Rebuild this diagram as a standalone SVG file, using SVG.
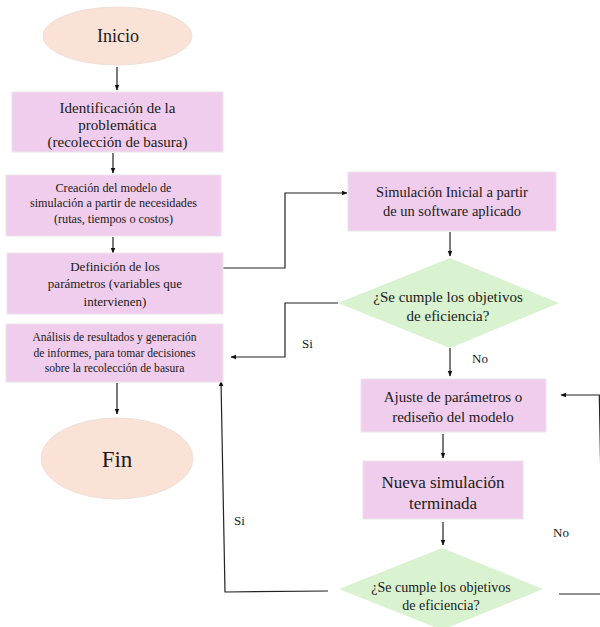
<svg xmlns="http://www.w3.org/2000/svg" width="600" height="627" viewBox="0 0 600 627" font-family="Times New Roman" style="font-family:'Liberation Serif','Times New Roman',serif">
<defs>
<marker id="ah" viewBox="0 0 10 10" refX="9" refY="5" markerWidth="6" markerHeight="6" orient="auto" markerUnits="userSpaceOnUse">
<path d="M0,1 L10,5 L0,9 z" fill="#111"/>
</marker>
</defs>
<rect width="600" height="627" fill="#fff"/>
<g id="connectors" fill="none" stroke="#222" stroke-width="1.2" marker-end="url(#ah)">
<path d="M117,67 V90"/>
<path d="M113,153 V173"/>
<path d="M113,237 V253"/>
<path d="M223,268 H285 V193 H347"/>
<path d="M450,232 V256"/>
<path d="M338,303 H285 V357 H231"/>
<path d="M117,383 V414"/>
<path d="M450,348 V376"/>
<path d="M443,434 V458"/>
<path d="M443,522 V545"/>
<path d="M328,591 L225,592 L221,381"/>
<path d="M559,594 H603 L599.3,395 H561"/>
</g>
<g id="labels">
<text style="font-family:'Liberation Serif','Times New Roman',serif" fill="#1a1a1a" font-size="13" x="302" y="348">Si</text>
<text style="font-family:'Liberation Serif','Times New Roman',serif" fill="#1a1a1a" font-size="13" x="472" y="363">No</text>
<text style="font-family:'Liberation Serif','Times New Roman',serif" fill="#1a1a1a" font-size="13" x="234" y="525">Si</text>
<text style="font-family:'Liberation Serif','Times New Roman',serif" fill="#1a1a1a" font-size="13" x="553" y="537">No</text>
</g>

<g id="inicio">
<ellipse fill="#fbe2d6" stroke="#eee0da" cx="117.5" cy="36" rx="74.5" ry="29"/>
<text style="font-family:'Liberation Serif','Times New Roman',serif" text-anchor="middle" fill="#1a1a1a" x="118" y="42" font-size="18">Inicio</text>
</g>

<g id="identificacion">
<rect fill="#f0cdec" stroke="#ece4ec" x="12" y="92" width="211" height="60"/>
<text style="font-family:'Liberation Serif','Times New Roman',serif" text-anchor="middle" fill="#1a1a1a" font-size="15"><tspan x="117.5" y="113">Identificación de la</tspan><tspan x="117.5" y="130">problemática</tspan><tspan x="117.5" y="147">(recolección de basura)</tspan></text>
</g>

<g id="creacion">
<rect fill="#f0cdec" stroke="#ece4ec" x="6" y="175" width="215" height="61"/>
<text style="font-family:'Liberation Serif','Times New Roman',serif" text-anchor="middle" fill="#1a1a1a" font-size="12.2"><tspan x="113.5" y="192">Creación del modelo de</tspan><tspan x="113.5" y="207">simulación a partir de necesidades</tspan><tspan x="113.5" y="223">(rutas, tiempos o costos)</tspan></text>
</g>

<g id="definicion">
<rect fill="#f0cdec" stroke="#ece4ec" x="7" y="253" width="216" height="61"/>
<text style="font-family:'Liberation Serif','Times New Roman',serif" text-anchor="middle" fill="#1a1a1a" font-size="13"><tspan x="115" y="271">Definición de los</tspan><tspan x="115" y="288">parámetros (variables que</tspan><tspan x="115" y="306">intervienen)</tspan></text>
</g>

<g id="analisis">
<rect fill="#f0cdec" stroke="#ece4ec" x="6" y="324" width="217" height="58"/>
<text style="font-family:'Liberation Serif','Times New Roman',serif" text-anchor="middle" fill="#1a1a1a" font-size="11.6"><tspan x="114.5" y="341">Análisis de resultados y generación</tspan><tspan x="114.5" y="357">de informes, para tomar decisiones</tspan><tspan x="114.5" y="372">sobre la recolección de basura</tspan></text>
</g>

<g id="fin">
<ellipse fill="#fbe2d6" stroke="#eee0da" cx="117" cy="458.5" rx="76" ry="40.5"/>
<text style="font-family:'Liberation Serif','Times New Roman',serif" text-anchor="middle" fill="#1a1a1a" x="117" y="467" font-size="23">Fin</text>
</g>

<g id="simulacion">
<rect fill="#f0cdec" stroke="#ece4ec" x="348" y="172" width="208" height="59"/>
<text style="font-family:'Liberation Serif','Times New Roman',serif" text-anchor="middle" fill="#1a1a1a" font-size="14.5"><tspan x="452" y="197">Simulación Inicial a partir</tspan><tspan x="452" y="216">de un software aplicado</tspan></text>
</g>

<g id="decision1">
<polygon fill="#d9f2d0" points="450,258 559,303 450,348 338,303"/>
<text style="font-family:'Liberation Serif','Times New Roman',serif" text-anchor="middle" fill="#1a1a1a" font-size="15"><tspan x="448" y="302">¿Se cumple los objetivos</tspan><tspan x="448" y="321">de eficiencia?</tspan></text>
</g>

<g id="ajuste">
<rect fill="#f0cdec" stroke="#ece4ec" x="361" y="379" width="185" height="53"/>
<text style="font-family:'Liberation Serif','Times New Roman',serif" text-anchor="middle" fill="#1a1a1a" font-size="15"><tspan x="453" y="402">Ajuste de parámetros o</tspan><tspan x="453" y="422">rediseño del modelo</tspan></text>
</g>

<g id="nueva">
<rect fill="#f0cdec" stroke="#ece4ec" x="363" y="461" width="160" height="58"/>
<text style="font-family:'Liberation Serif','Times New Roman',serif" text-anchor="middle" fill="#1a1a1a" font-size="17"><tspan x="443" y="488">Nueva simulación</tspan><tspan x="443" y="509">terminada</tspan></text>
</g>

<g id="decision2">
<polygon fill="#d9f2d0" points="442,548 543,589 442,630 339,589"/>
<text style="font-family:'Liberation Serif','Times New Roman',serif" text-anchor="middle" fill="#1a1a1a" font-size="14"><tspan x="441" y="592">¿Se cumple los objetivos</tspan><tspan x="441" y="610">de eficiencia?</tspan></text>
</g>
</svg>
